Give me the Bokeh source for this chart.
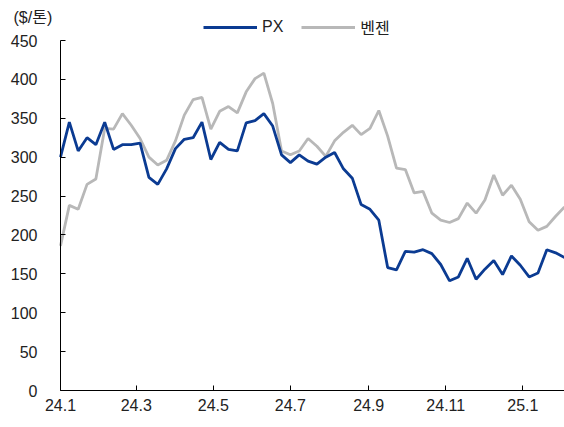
import pandas as pd
from bokeh.plotting import figure
from bokeh.models import ColumnDataSource, Range1d, FixedTicker, Legend, LegendItem, Label
from bokeh.embed import file_html
from bokeh.resources import INLINE

# weekly observations starting 2024-01-01
start_date = "2024-01-01"
px = [300, 345, 308, 325, 316, 345, 310, 316, 316, 318, 274, 265, 285, 311, 323,
      325, 345, 297, 319, 310, 308, 344, 347, 356, 340, 303, 293, 303, 295, 291,
      300, 306, 285, 273, 239, 233, 219, 158, 155, 179, 178, 181, 176, 162, 141,
      146, 170, 143, 156, 167, 149, 173, 161, 146, 151, 181, 177, 171]
benzene = [186, 238, 233, 265, 272, 337, 336, 356, 341, 324, 300, 290, 296, 321, 354,
           374, 377, 336, 359, 365, 357, 384, 401, 408, 369, 308, 303, 308, 324, 314,
           301, 321, 332, 341, 329, 337, 360, 327, 286, 284, 254, 256, 228, 219, 216,
           221, 241, 228, 245, 277, 251, 264, 246, 217, 206, 211, 224, 236]
tick_months = ["2024-01-01", "2024-03-01", "2024-05-01", "2024-07-01",
               "2024-09-01", "2024-11-01", "2025-01-01"]
tick_labels = ["24.1", "24.3", "24.5", "24.7", "24.9", "24.11", "25.1"]
y_ticks = [0, 50, 100, 150, 200, 250, 300, 350, 400, 450]
series_names = ["PX", "벤젠"]
unit_label = "($/톤)"

t0 = pd.Timestamp(start_date)
dates = pd.date_range(start_date, periods=len(px), freq="7D")
xdays = [(d - t0).days for d in dates]
tick_days = [(pd.Timestamp(m) - t0).days for m in tick_months]
y_top = y_ticks[-1]

# layout (pixels): the frame spans the whole canvas; axes are placed at
# fixed locations: y axis at x=60, x axis at y=390, value 450 at y=40
W, H = 564, 427
AXIS_X, AXIS_Y, TOP_Y = 60, 390, 40
x_end = xdays[-1]
x_start = -x_end * AXIS_X / (W - AXIS_X)
y_scale = (AXIS_Y - TOP_Y) / y_top
y_start = -(H - AXIS_Y) / y_scale
y_end = y_top + TOP_Y / y_scale

src = ColumnDataSource(dict(x=xdays, px=px, bz=benzene))

FONT = "Liberation Sans, Noto Sans CJK KR"
TXT = "#222222"

p = figure(width=W, height=H, output_backend="svg", toolbar_location=None,
           x_range=Range1d(x_start, x_end), y_range=Range1d(y_start, y_end),
           min_border_left=0, min_border_right=0, min_border_top=0,
           min_border_bottom=0, title=None)
p.outline_line_color = None
p.xgrid.visible = False
p.ygrid.visible = False
p.background_fill_color = "white"
p.border_fill_color = "white"

r_bz = p.line("x", "bz", source=src, line_color="#b8b8b8", line_width=2.8)
r_px = p.line("x", "px", source=src, line_color="#0b3b92", line_width=2.8)

for ax in (p.xaxis[0], p.yaxis[0]):
    ax.axis_line_color = "black"
    ax.axis_line_width = 1
    ax.major_tick_line_color = "black"
    ax.major_tick_in = 5
    ax.major_tick_out = 0
    ax.minor_tick_line_color = None
    ax.major_label_text_font = FONT
    ax.major_label_text_font_size = "16px"
    ax.major_label_text_color = TXT

p.xaxis.ticker = FixedTicker(ticks=tick_days)
p.xaxis.major_label_overrides = {d: l for d, l in zip(tick_days, tick_labels)}
p.xaxis.major_label_standoff = 8
p.xaxis.bounds = (0, x_end)
p.xaxis.fixed_location = 0
p.yaxis.ticker = FixedTicker(ticks=y_ticks)
p.yaxis.major_label_standoff = 23
p.yaxis.bounds = (0, y_top)
p.yaxis.fixed_location = 0

legend = Legend(items=[LegendItem(label=series_names[0], renderers=[r_px]),
                       LegendItem(label=series_names[1], renderers=[r_bz])],
                orientation="horizontal", location=(203, H - 39),
                background_fill_alpha=0, border_line_color=None,
                padding=0, margin=0, spacing=18, glyph_width=54, glyph_height=20,
                label_height=20, label_standoff=5,
                label_text_font=FONT, label_text_font_size="16px",
                label_text_color=TXT)
p.add_layout(legend, "center")

lab = Label(x=13, y=H - 16.5, x_units="screen", y_units="screen",
            text=unit_label, text_font=FONT, text_font_size="16px",
            text_color=TXT, text_baseline="middle", text_align="left")
p.add_layout(lab)

open("out.html", "w").write(file_html(p, INLINE))
